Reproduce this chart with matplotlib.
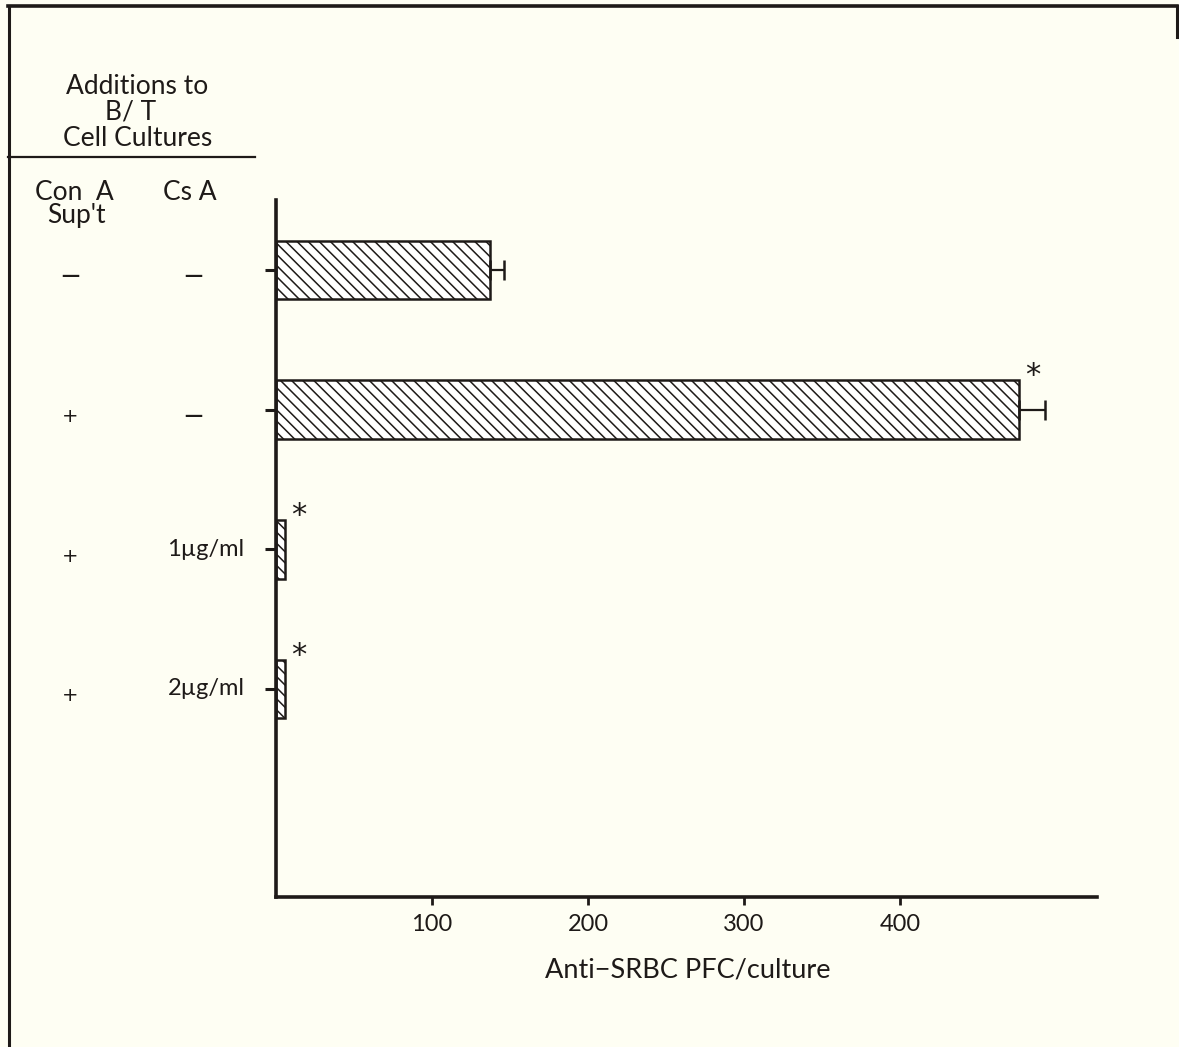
import matplotlib
matplotlib.use("Agg")
import matplotlib.pyplot as plt
from matplotlib.lines import Line2D
from matplotlib.transforms import blended_transform_factory

plt.rcParams['font.family'] = ['Lato', 'DejaVu Sans']
plt.rcParams['hatch.linewidth'] = 1.1

# ---- data ----
conA = ["\u2212", "+", "+", "+"]
csa = ["\u2212", "\u2212", "1\u00b5g/ml", "2\u00b5g/ml"]
values = [137, 476, 6, 6]
errors = [9, 17, 0, 0]
significant = [False, True, True, True]
xticks = [100, 200, 300, 400]
xlabel = "Anti\u2212SRBC PFC/culture"

W, H = 1179, 1047
bg = "#fefef3"
ink = "#1e1a18"

fig = plt.figure(figsize=(W / 100, H / 100), dpi=100, facecolor=bg)

def fx(px):
    return px / W

def fy(py):
    return 1 - py / H

left, right, top, bottom = 276, 1097, 200, 897
ax = fig.add_axes([fx(left), fy(bottom), fx(right) - fx(left), fy(top) - fy(bottom)])
ax.set_facecolor(bg)

ypos = list(range(len(values)))
ax.barh(ypos, values, height=0.42, left=0, color="white", edgecolor=ink,
        linewidth=1.8, hatch="\\\\\\", zorder=2)
for y, v, e in zip(ypos, values, errors):
    if e > 0:
        ax.errorbar(v, y, xerr=[[0], [e]], fmt="none", ecolor=ink,
                    elinewidth=1.6, capsize=7, capthick=1.8, zorder=3)
for y, v, e, s in zip(ypos, values, errors, significant):
    if s:
        ax.text(v + 4, y - 0.24, "*", fontsize=22, color=ink,
                family=["DejaVu Sans"], ha="left", va="center", zorder=4)

ax.set_xlim(0, (right - left) / 1.56)
ax.set_ylim(4.49, -0.5)
ax.set_xticks(xticks)
ax.set_xticklabels([str(t) for t in xticks], fontsize=17, color=ink)
ax.set_yticks(ypos)
ax.set_yticklabels([])
ax.tick_params(axis="x", direction="out", length=6, width=2, color=ink, pad=6)
ax.tick_params(axis="y", direction="out", length=8, width=2.2, color=ink)
for sp in ["top", "right"]:
    ax.spines[sp].set_visible(False)
for sp in ["left", "bottom"]:
    ax.spines[sp].set_linewidth(2.6)
    ax.spines[sp].set_color(ink)

# x label
fig.text(fx(688), fy(970), xlabel, fontsize=19.5, color=ink, ha="center", va="center")

# row labels: x in figure coords, y in data coords
tr = blended_transform_factory(fig.transFigure, ax.transData)
MINUS = "\u2212"
for y, a, c in zip(ypos, conA, csa):
    fig.text(fx(70), y + 0.05, a, transform=tr,
             fontsize=19 if a == MINUS else 14, color=ink,
             family=["DejaVu Sans"], ha="center", va="center")
    if c == MINUS:
        fig.text(fx(193), y + 0.05, c, transform=tr, fontsize=19, color=ink,
                 family=["DejaVu Sans"], ha="center", va="center")
    else:
        fig.text(fx(206), y, c, transform=tr, fontsize=17, color=ink,
                 ha="center", va="center")

# header
hs = 19
fig.text(fx(137), fy(86), "Additions to", fontsize=hs, color=ink, ha="center", va="center")
fig.text(fx(131), fy(112), "B/ T", fontsize=hs, color=ink, ha="center", va="center")
fig.text(fx(138), fy(138), "Cell Cultures", fontsize=hs, color=ink, ha="center", va="center")
fig.text(fx(74), fy(192), "Con  A", fontsize=hs, color=ink, ha="center", va="center")
fig.text(fx(76), fy(215), "Sup't", fontsize=hs, color=ink, ha="center", va="center")
fig.text(fx(190), fy(192), "Cs A", fontsize=hs, color=ink, ha="center", va="center")

# frame lines
lines = [
    ([8, 1177], [6, 6], 2.6),
    ([9, 9], [6, 1047], 2.2),
    ([1177, 1177], [6, 37], 2.2),
    ([8, 255], [157, 157], 1.6),
]
for xs, ys, lw in lines:
    fig.add_artist(Line2D([fx(x) for x in xs], [fy(y) for y in ys], color=ink, lw=lw))

fig.savefig("out.png", dpi=100, facecolor=bg)
